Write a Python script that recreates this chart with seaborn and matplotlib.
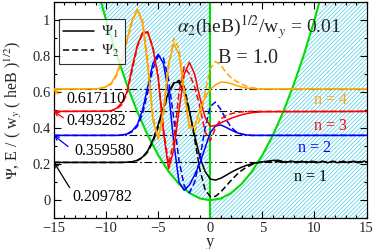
import numpy as np
import matplotlib
matplotlib.use('Agg')
import matplotlib.pyplot as plt
import seaborn as sns
from matplotlib.lines import Line2D
from matplotlib.ticker import MultipleLocator

sns.set_theme(style='ticks')
plt.rcParams['font.family'] = ['Liberation Serif', 'DejaVu Serif']
plt.rcParams['mathtext.fontset'] = 'stix'
plt.rcParams['hatch.linewidth'] = 0.6

# energies of the four states
energies = [0.209782, 0.359580, 0.493282, 0.617110]
state_colors = ['black', 'blue', 'red', 'orange']

# potential (green parabola)
pot_x = [-15, -14, -13, -12, -11, -10, -9, -8, -7, -6, -5, -4, -3, -2, -1, 0,
         1, 2, 3, 4, 5, 6, 7, 8, 9, 10, 11, 12, 13, 14, 15]
pot_v = [2.25, 1.96, 1.69, 1.44, 1.21, 1.00, 0.81, 0.64, 0.49, 0.36, 0.25, 0.16, 0.09, 0.04,
         0.01, 0.0, 0.01, 0.04, 0.09, 0.16, 0.25, 0.36, 0.49, 0.64, 0.81, 1.00, 1.21, 1.44,
         1.69, 1.96, 2.25]

# n = 1 (black)
n1_x = [-15, -8.5, -8, -7.5, -7, -6.5, -6, -5.5, -5, -4.5, -4, -3.5, -3, -2.5, -2, -1.5,
        -1, -0.5, 0, 0.5, 1, 1.5, 2, 2.5, 3, 3.5, 4, 4.5, 5, 5.5, 6, 6.5]
n1_psi1 = [0.210, 0.210, 0.211, 0.214, 0.222, 0.240, 0.275, 0.335, 0.420, 0.515, 0.600, 0.652,
           0.655, 0.600, 0.490, 0.360, 0.240, 0.160, 0.118, 0.112, 0.122, 0.138, 0.155, 0.170,
           0.183, 0.194, 0.203, 0.209, 0.213, 0.217, 0.221, 0.222]
n1_psi2 = [0.210, 0.210, 0.211, 0.213, 0.220, 0.236, 0.268, 0.325, 0.405, 0.500, 0.590, 0.648,
           0.665, 0.630, 0.500, 0.340, 0.170, 0.060, 0.020, 0.022, 0.045, 0.078, 0.110, 0.140,
           0.165, 0.184, 0.198, 0.207, 0.212, 0.214, 0.214, 0.214]
# ripples of Psi1 on the right side
n1_tail_x = [6.75, 7, 7.25, 7.5, 7.75, 8, 8.25, 8.5, 8.75, 9, 9.25, 9.5, 9.75, 10, 10.25, 10.5,
             10.75, 11, 11.25, 11.5, 11.75, 12, 12.25, 12.5, 12.75, 13, 13.25, 13.5, 13.75, 14,
             14.25, 14.5, 14.75, 15]
n1_tail_psi1 = [0.219, 0.214, 0.209, 0.213, 0.218, 0.214, 0.208, 0.212, 0.217, 0.213, 0.208, 0.212,
                0.217, 0.213, 0.208, 0.212, 0.217, 0.213, 0.208, 0.212, 0.217, 0.213, 0.208, 0.212,
                0.217, 0.213, 0.208, 0.212, 0.217, 0.213, 0.208, 0.212, 0.217, 0.213]

# n = 2 (blue)
n2_x = [-15, -9, -8.5, -8, -7.5, -7, -6.5, -6, -5.5, -5, -4.5, -4, -3.5, -3, -2.5, -2, -1.5,
        -1, -0.5, 0, 0.5, 1, 1.5, 2, 2.5, 3, 3.5, 4, 15]
n2_psi1 = [0.360, 0.360, 0.362, 0.368, 0.385, 0.420, 0.500, 0.630, 0.760, 0.810, 0.760, 0.600,
           0.320, 0.100, 0.055, 0.085, 0.140, 0.205, 0.290, 0.375, 0.412, 0.418, 0.405, 0.390,
           0.376, 0.367, 0.362, 0.360, 0.360]
n2_psi2 = [0.360, 0.360, 0.361, 0.366, 0.380, 0.410, 0.480, 0.600, 0.730, 0.800, 0.790, 0.670,
           0.450, 0.220, 0.080, 0.042, 0.100, 0.230, 0.400, 0.520, 0.545, 0.505, 0.450, 0.405,
           0.380, 0.368, 0.362, 0.360, 0.360]

# n = 3 (red)
n3_x = [-15, -10, -9.5, -9, -8.5, -8, -7.5, -7, -6.5, -6, -5.5, -5, -4.5, -4, -3.5, -3, -2.5,
        -2, -1.5, -1, -0.5, 0, 0.5, 1, 1.5, 2, 2.5, 3, 3.5, 4, 5, 15]
n3_psi1 = [0.493, 0.494, 0.498, 0.510, 0.540, 0.600, 0.740, 0.860, 0.930, 0.935, 0.840, 0.680,
           0.380, 0.175, 0.280, 0.500, 0.700, 0.765, 0.700, 0.570, 0.460, 0.410, 0.415, 0.430,
           0.442, 0.455, 0.465, 0.474, 0.481, 0.486, 0.491, 0.493]
n3_psi2 = [0.493, 0.494, 0.496, 0.505, 0.530, 0.590, 0.720, 0.850, 0.925, 0.930, 0.850, 0.690,
           0.400, 0.200, 0.330, 0.600, 0.740, 0.700, 0.630, 0.520, 0.380, 0.330, 0.400, 0.450,
           0.470, 0.480, 0.487, 0.490, 0.492, 0.493, 0.493, 0.493]

# n = 4 (orange)
n4_x = [-15, -11, -10.5, -10, -9.5, -9, -8.5, -8, -7.5, -7, -6.5, -6, -5.5, -5, -4.5, -4, -3.5,
        -3, -2.5, -2, -1.5, -1, -0.5, 0, 0.5, 1, 1.5, 2, 2.5, 3, 3.5, 4, 5, 15]
n4_psi1 = [0.617, 0.618, 0.622, 0.630, 0.650, 0.700, 0.780, 0.890, 1.000, 1.060, 0.980, 0.740,
           0.440, 0.340, 0.500, 0.760, 0.870, 0.810, 0.590, 0.400, 0.410, 0.500, 0.570, 0.615,
           0.640, 0.655, 0.655, 0.647, 0.637, 0.628, 0.622, 0.619, 0.617, 0.617]
n4_psi2 = [0.617, 0.618, 0.621, 0.628, 0.645, 0.690, 0.770, 0.880, 0.990, 1.055, 1.000, 0.780,
           0.470, 0.340, 0.460, 0.740, 0.900, 0.840, 0.620, 0.420, 0.380, 0.450, 0.600, 0.730,
           0.770, 0.750, 0.710, 0.680, 0.660, 0.645, 0.632, 0.624, 0.618, 0.617]

n_labels = ['n = 1', 'n = 2', 'n = 3', 'n = 4']

fig = plt.figure(figsize=(3.74, 2.49), dpi=100)
ax = fig.add_axes([0.1444, 0.1233, 0.8356, 0.8687])
ax.set_facecolor('white')
ax.set_xlim(-15, 15)
ax.set_ylim(-0.1, 1.1)

# hatched regions
hatch_col = '#5fd3ea'
px = np.array(pot_x, dtype=float)
pv = np.array(pot_v)
left = px <= 0
right = px >= 0
ax.fill_between(px[left], np.minimum(pv[left], 1.1), 1.1, facecolor='none',
                edgecolor=hatch_col, hatch='////////', linewidth=0, zorder=0)
ax.fill_between(px[right], -0.1, np.minimum(pv[right], 1.1), facecolor='none',
                edgecolor=hatch_col, hatch='////////', linewidth=0, zorder=0)

# energy levels
for e in energies:
    ax.axhline(e, color='black', lw=0.8, ls=(0, (7, 2.5, 1.5, 2.5)), zorder=1)

# potential and wall
sns.lineplot(x=pot_x, y=pot_v, color='#00dd00', lw=1.5, ax=ax, zorder=2)
ax.axvline(0, color='#00dd00', lw=1.5, zorder=2)

dash = (0, (4, 2))
curves = [
    (n1_x + n1_tail_x, n1_psi1 + n1_tail_psi1, n1_x + [15], n1_psi2 + [0.214], 'black'),
    (n2_x, n2_psi1, n2_x, n2_psi2, 'blue'),
    (n3_x, n3_psi1, n3_x, n3_psi2, 'red'),
    (n4_x, n4_psi1, n4_x, n4_psi2, 'orange'),
]
for x1, y1, x2, y2, c in curves:
    sns.lineplot(x=x1, y=y1, color=c, lw=1.1, ax=ax, zorder=3)
    sns.lineplot(x=x2, y=y2, color=c, lw=1.1, linestyle=dash, ax=ax, zorder=3)

# energy value annotations
ann_text_pos = [(-10.35, 0.018), (-10.15, 0.276), (-10.97, 0.44), (-11.0, 0.563)]
ann_tail_pos = [(-13.5, 0.07), (-13.65, 0.298), (-14.1, 0.457), (-14.6, 0.59)]
ann_strings = ['0.209782', '0.359580', '0.493282', '0.617110']
for e, c, tp, tl, s in zip(energies, state_colors, ann_text_pos, ann_tail_pos, ann_strings):
    ax.text(tp[0], tp[1], s, ha='center', va='center', fontsize=11.5, color='black', zorder=5)
    ax.annotate('', xy=(-15, e), xytext=tl,
                arrowprops=dict(arrowstyle='->', color=c, lw=0.9,
                                shrinkA=0, shrinkB=0, mutation_scale=7), zorder=5)

# state labels
lab_pos = [(9.6, 0.13), (10.05, 0.29), (11.5, 0.41), (11.5, 0.557)]
for (lx, ly), s, c in zip(lab_pos, n_labels, state_colors):
    ax.text(lx, ly, s, ha='center', va='center', fontsize=11.5, color=c, zorder=5)

ax.text(-3.2, 0.928, r'$\alpha_2$(heB)$^{1/2}$/w$_y$ = 0.01', ha='left', va='baseline',
        fontsize=14, zorder=5)
ax.text(0.77, 0.761, 'B = 1.0', ha='left', va='baseline', fontsize=14.5, zorder=5)

# legend
handles = [Line2D([], [], color='black', lw=1.1),
           Line2D([], [], color='black', lw=1.1, linestyle=dash)]
leg = ax.legend(handles, [r'$\Psi_1$', r'$\Psi_2$'], loc='upper left',
                bbox_to_anchor=(0.015, 0.92), fontsize=11, frameon=True, fancybox=False,
                handlelength=2.0, handletextpad=0.5, borderpad=0.3, labelspacing=0.2,
                borderaxespad=0)
leg.get_frame().set_edgecolor('black')
leg.get_frame().set_linewidth(0.8)
leg.set_zorder(6)

# axes cosmetics
ax.set_xticks([-15, -10, -5, 0, 5, 10, 15])
ax.set_yticks([0, 0.2, 0.4, 0.6, 0.8, 1.0])
ax.set_yticklabels(['0', '0.2', '0.4', '0.6', '0.8', '1'])
ax.xaxis.set_minor_locator(MultipleLocator(1))
ax.yaxis.set_minor_locator(MultipleLocator(0.1))
ax.tick_params(which='both', direction='in', top=True, right=True, labelsize=10.5,
               width=0.8, color='black', pad=2.5)
ax.tick_params(which='major', length=5)
ax.tick_params(which='minor', length=2.5)
for sp in ax.spines.values():
    sp.set_color('black')
    sp.set_linewidth(0.9)
ax.set_xlabel('y', fontsize=12, labelpad=-0.5)
ax.set_ylabel(r'$\Psi$, E / ( w$_y$ ( heB )$^{1/2}$)', fontsize=11.5)
ax.yaxis.set_label_coords(-0.095, 0.5)

fig.savefig('out.png', dpi=100)
